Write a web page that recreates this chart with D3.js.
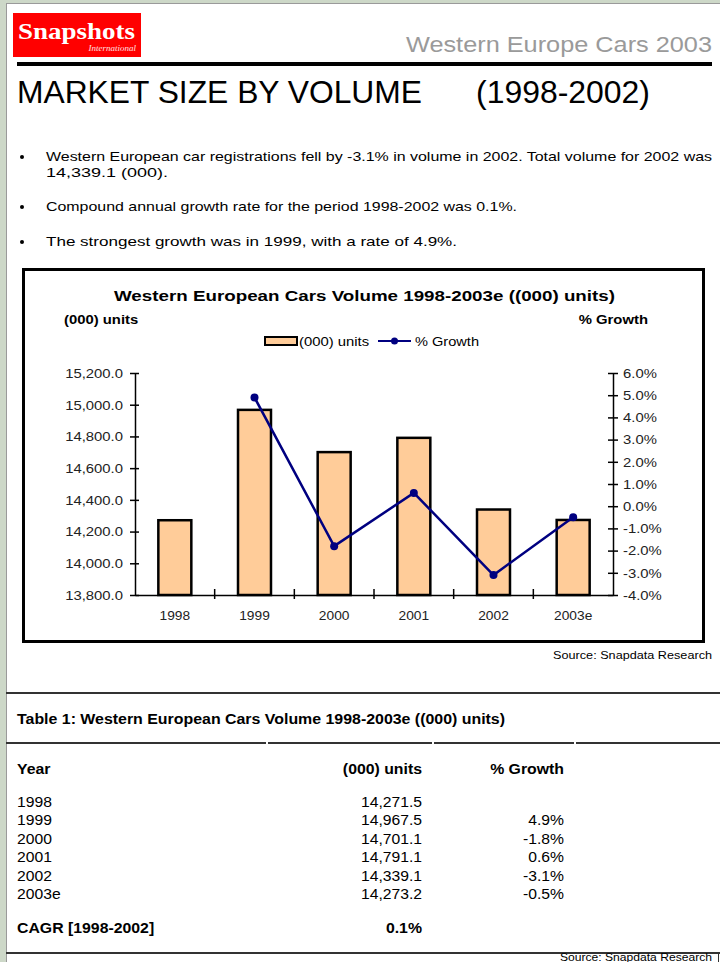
<!DOCTYPE html>
<html>
<head>
<meta charset="UTF-8" />
<title>Western Europe Cars 2003</title>
<script src="https://d3js.org/d3.v7.min.js"></script>
<style>
  body { margin: 0; background: #cdd8c8; }
  svg { display: block; font-family: "Liberation Sans", Arial, sans-serif; }
</style>
</head>
<body>
<svg id="page" width="720" height="962"></svg>
<script>
// data
const years = ["1998", "1999", "2000", "2001", "2002", "2003e"];
const units = [14271.5, 14967.5, 14701.1, 14791.1, 14339.1, 14273.2];
const growth = [null, 4.9, -1.8, 0.6, -3.1, -0.5];
const cagr = 0.1;
const unitTicks = [13800, 14000, 14200, 14400, 14600, 14800, 15000, 15200];
const growthTicks = [-4, -3, -2, -1, 0, 1, 2, 3, 4, 5, 6];
const bullets = [
  ["Western European car registrations fell by -3.1% in volume in 2002. Total volume for 2002 was", "14,339.1 (000)."],
  ["Compound annual growth rate for the period 1998-2002 was 0.1%."],
  ["The strongest growth was in 1999, with a rate of 4.9%."]
];

const loc = d3.formatLocale({decimal: ".", thousands: ",", grouping: [3], currency: ["", ""], minus: "-"});
const fmtUnits = loc.format(",.1f");
const fmtPct = v => loc.format(".1f")(v) + "%";

// the scan is a bit wider than the font, so widen text a little
function stretch(sel, k) {
  sel.each(function() {
    const w = this.getComputedTextLength();
    if (w > 0) {
      this.setAttribute("textLength", w * k);
      this.setAttribute("lengthAdjust", "spacingAndGlyphs");
    }
  });
}

const svg = d3.select("#page");

// page sheet
svg.append("rect").attr("x", 6.5).attr("y", 3.5).attr("width", 720).attr("height", 970)
  .attr("fill", "#fff").attr("stroke", "#9a9a9a");

// header
svg.append("rect").attr("x", 13).attr("y", 13).attr("width", 128).attr("height", 44).attr("fill", "#ff0000");
svg.append("text").attr("x", 18).attr("y", 39).attr("font-family", "Liberation Serif, serif")
  .attr("font-weight", "bold").attr("font-size", 23).attr("fill", "#fff")
  .attr("textLength", 117).attr("lengthAdjust", "spacingAndGlyphs").text("Snapshots");
svg.append("text").attr("x", 136).attr("y", 51).attr("text-anchor", "end")
  .attr("font-family", "Liberation Serif, serif").attr("font-style", "italic")
  .attr("font-size", 9).attr("fill", "#ffe0e0").text("International");
svg.append("text").attr("x", 712).attr("y", 52).attr("text-anchor", "end")
  .attr("font-size", 22).attr("fill", "#9a9a9a")
  .attr("textLength", 306).attr("lengthAdjust", "spacingAndGlyphs").text("Western Europe Cars 2003");
svg.append("rect").attr("x", 17).attr("y", 62).attr("width", 695).attr("height", 4).attr("fill", "#000");
svg.append("text").attr("x", 17).attr("y", 103).attr("font-size", 31)
  .attr("textLength", 405).attr("lengthAdjust", "spacingAndGlyphs").text("MARKET SIZE BY VOLUME");
svg.append("text").attr("x", 476).attr("y", 103).attr("font-size", 31)
  .attr("textLength", 174).attr("lengthAdjust", "spacingAndGlyphs").text("(1998-2002)");

// bullets
const bulletY = [161, 211, 246];
const bulletW = [[666, 122], [471], [411]];
bullets.forEach((lines, i) => {
  svg.append("circle").attr("cx", 22).attr("cy", bulletY[i] - 4).attr("r", 2).attr("fill", "#000");
  lines.forEach((t, j) => {
    svg.append("text").attr("x", 46).attr("y", bulletY[i] + j * 16).attr("font-size", 13)
      .attr("textLength", bulletW[i][j]).attr("lengthAdjust", "spacingAndGlyphs").text(t);
  });
});

// chart box
svg.append("rect").attr("x", 23.5).attr("y", 269.5).attr("width", 680).attr("height", 372)
  .attr("fill", "#fff").attr("stroke", "#000").attr("stroke-width", 3);
svg.append("text").attr("x", 114).attr("y", 301).attr("font-size", 15).attr("font-weight", "bold")
  .attr("textLength", 501).attr("lengthAdjust", "spacingAndGlyphs")
  .text("Western European Cars Volume 1998-2003e ((000) units)");
svg.append("text").attr("x", 64).attr("y", 324).attr("font-size", 13.5).attr("font-weight", "bold")
  .text("(000) units").call(stretch, 1.1);
svg.append("text").attr("x", 648).attr("y", 324).attr("font-size", 13.5).attr("font-weight", "bold")
  .attr("text-anchor", "end").text("% Growth").call(stretch, 1.1);

// legend
const lg = svg.append("g").attr("font-size", 13.5);
lg.append("rect").attr("x", 265).attr("y", 337).attr("width", 32).attr("height", 8)
  .attr("fill", "#ffcc99").attr("stroke", "#000").attr("stroke-width", 2);
lg.append("text").attr("x", 299).attr("y", 346).text("(000) units").call(stretch, 1.1);
lg.append("line").attr("x1", 378).attr("x2", 411).attr("y1", 341).attr("y2", 341)
  .attr("stroke", "#000080").attr("stroke-width", 2);
lg.append("circle").attr("cx", 394.5).attr("cy", 341).attr("r", 3.5).attr("fill", "#000080");
lg.append("text").attr("x", 415).attr("y", 346).text("% Growth").call(stretch, 1.08);

// scales
const plotL = 135, plotR = 613, plotT = 373, plotB = 595;
const x = d3.scaleBand().domain(years).range([plotL, plotR]).paddingInner(0.586).paddingOuter(0.293);
const y = d3.scaleLinear().domain([13800, 15200]).range([plotB, plotT]);
const yr = d3.scaleLinear().domain([-4, 6]).range([plotB, plotT]);

// bars
svg.append("g").selectAll("rect").data(units).join("rect")
  .attr("x", (d, i) => x(years[i]))
  .attr("y", d => y(d))
  .attr("width", x.bandwidth())
  .attr("height", d => y(13800) - y(d))
  .attr("fill", "#ffcc99").attr("stroke", "#000").attr("stroke-width", 2.5);

// left axis
const gl = svg.append("g").attr("transform", `translate(${plotL},0)`)
  .call(d3.axisLeft(y).tickValues(unitTicks).tickFormat(fmtUnits).tickSize(5).tickSizeOuter(0).tickPadding(7));
gl.selectAll(".tick line").attr("x1", 4).attr("stroke-width", 1.5);
gl.selectAll("text").attr("font-size", 13.5).attr("font-family", "Liberation Sans, Arial, sans-serif")
  .attr("fill", "#222").call(stretch, 1.1);
gl.select(".domain").attr("stroke-width", 1.5);

// right axis
const gr = svg.append("g").attr("transform", `translate(${plotR},0)`)
  .call(d3.axisRight(yr).tickValues(growthTicks).tickFormat(fmtPct).tickSize(5).tickSizeOuter(0).tickPadding(5));
gr.selectAll(".tick line").attr("x1", -5).attr("stroke-width", 1.5);
gr.selectAll("text").attr("font-size", 13.5).attr("font-family", "Liberation Sans, Arial, sans-serif")
  .attr("fill", "#222").call(stretch, 1.1);
gr.select(".domain").attr("stroke-width", 1.5);

// bottom axis
const gb = svg.append("g").attr("transform", `translate(0,${plotB})`)
  .call(d3.axisBottom(x).tickSize(0).tickSizeOuter(0).tickPadding(16));
gb.selectAll("text").attr("font-size", 12.5).attr("font-family", "Liberation Sans, Arial, sans-serif")
  .attr("fill", "#222").call(stretch, 1.1);
gb.select(".domain").attr("stroke-width", 1.5);
const half = (x.step() - x.bandwidth()) / 2;
gb.selectAll("line.sep").data(years.slice(1)).join("line").attr("class", "sep")
  .attr("x1", d => x(d) - half).attr("x2", d => x(d) - half)
  .attr("y1", -6).attr("y2", 4).attr("stroke", "#000").attr("stroke-width", 1.5);

// growth line
const pts = years.map((yy, i) => [yy, growth[i]]).filter(d => d[1] !== null);
const cx = d => x(d[0]) + x.bandwidth() / 2;
svg.append("path").datum(pts)
  .attr("d", d3.line().x(cx).y(d => yr(d[1])))
  .attr("fill", "none").attr("stroke", "#000080").attr("stroke-width", 2.5);
svg.append("g").selectAll("circle").data(pts).join("circle")
  .attr("cx", cx).attr("cy", d => yr(d[1])).attr("r", 4).attr("fill", "#000080");

svg.append("text").attr("x", 712).attr("y", 659).attr("text-anchor", "end").attr("font-size", 11.5)
  .text("Source: Snapdata Research").call(stretch, 1.1);

// table
svg.append("line").attr("x1", 6).attr("x2", 720).attr("y1", 693).attr("y2", 693)
  .attr("stroke", "#333").attr("stroke-width", 2);
svg.append("text").attr("x", 17).attr("y", 724).attr("font-size", 14).attr("font-weight", "bold")
  .attr("textLength", 488).attr("lengthAdjust", "spacingAndGlyphs")
  .text("Table 1: Western European Cars Volume 1998-2003e ((000) units)");
[[6, 266], [268, 432], [434, 574], [576, 720]].forEach(s => {
  svg.append("line").attr("x1", s[0]).attr("x2", s[1]).attr("y1", 743).attr("y2", 743)
    .attr("stroke", "#333").attr("stroke-width", 2);
});
const colUnits = 422, colGrowth = 564;
const th = svg.append("g").attr("font-size", 14).attr("font-weight", "bold");
th.append("text").attr("x", 17).attr("y", 774).text("Year");
th.append("text").attr("x", colUnits).attr("y", 774).attr("text-anchor", "end").text("(000) units");
th.append("text").attr("x", colGrowth).attr("y", 774).attr("text-anchor", "end").text("% Growth");
th.selectAll("text").call(stretch, 1.13);

const rowY = d3.scaleLinear().domain([0, years.length - 1]).range([807, 899]);
const rows = svg.append("g").attr("font-size", 14).selectAll("g").data(years).join("g");
rows.append("text").attr("x", 17).attr("y", (d, i) => rowY(i)).text(d => d);
rows.append("text").attr("x", colUnits).attr("y", (d, i) => rowY(i)).attr("text-anchor", "end")
  .text((d, i) => fmtUnits(units[i]));
rows.append("text").attr("x", colGrowth).attr("y", (d, i) => rowY(i)).attr("text-anchor", "end")
  .text((d, i) => growth[i] === null ? "" : fmtPct(growth[i]));
rows.selectAll("text").call(stretch, 1.12);

svg.append("text").attr("x", 17).attr("y", 933).attr("font-size", 14).attr("font-weight", "bold")
  .text("CAGR [1998-2002]").call(stretch, 1.13);
svg.append("text").attr("x", colUnits).attr("y", 933).attr("font-size", 14).attr("font-weight", "bold")
  .attr("text-anchor", "end").text(fmtPct(cagr)).call(stretch, 1.13);

svg.append("line").attr("x1", 6).attr("x2", 720).attr("y1", 953).attr("y2", 953)
  .attr("stroke", "#333").attr("stroke-width", 2);
svg.append("line").attr("x1", 718.5).attr("x2", 718.5).attr("y1", 953).attr("y2", 962)
  .attr("stroke", "#333").attr("stroke-width", 1);
svg.append("text").attr("x", 712).attr("y", 961).attr("text-anchor", "end").attr("font-size", 11)
  .text("Source: Snapdata Research").call(stretch, 1.1);
</script>
</body>
</html>
